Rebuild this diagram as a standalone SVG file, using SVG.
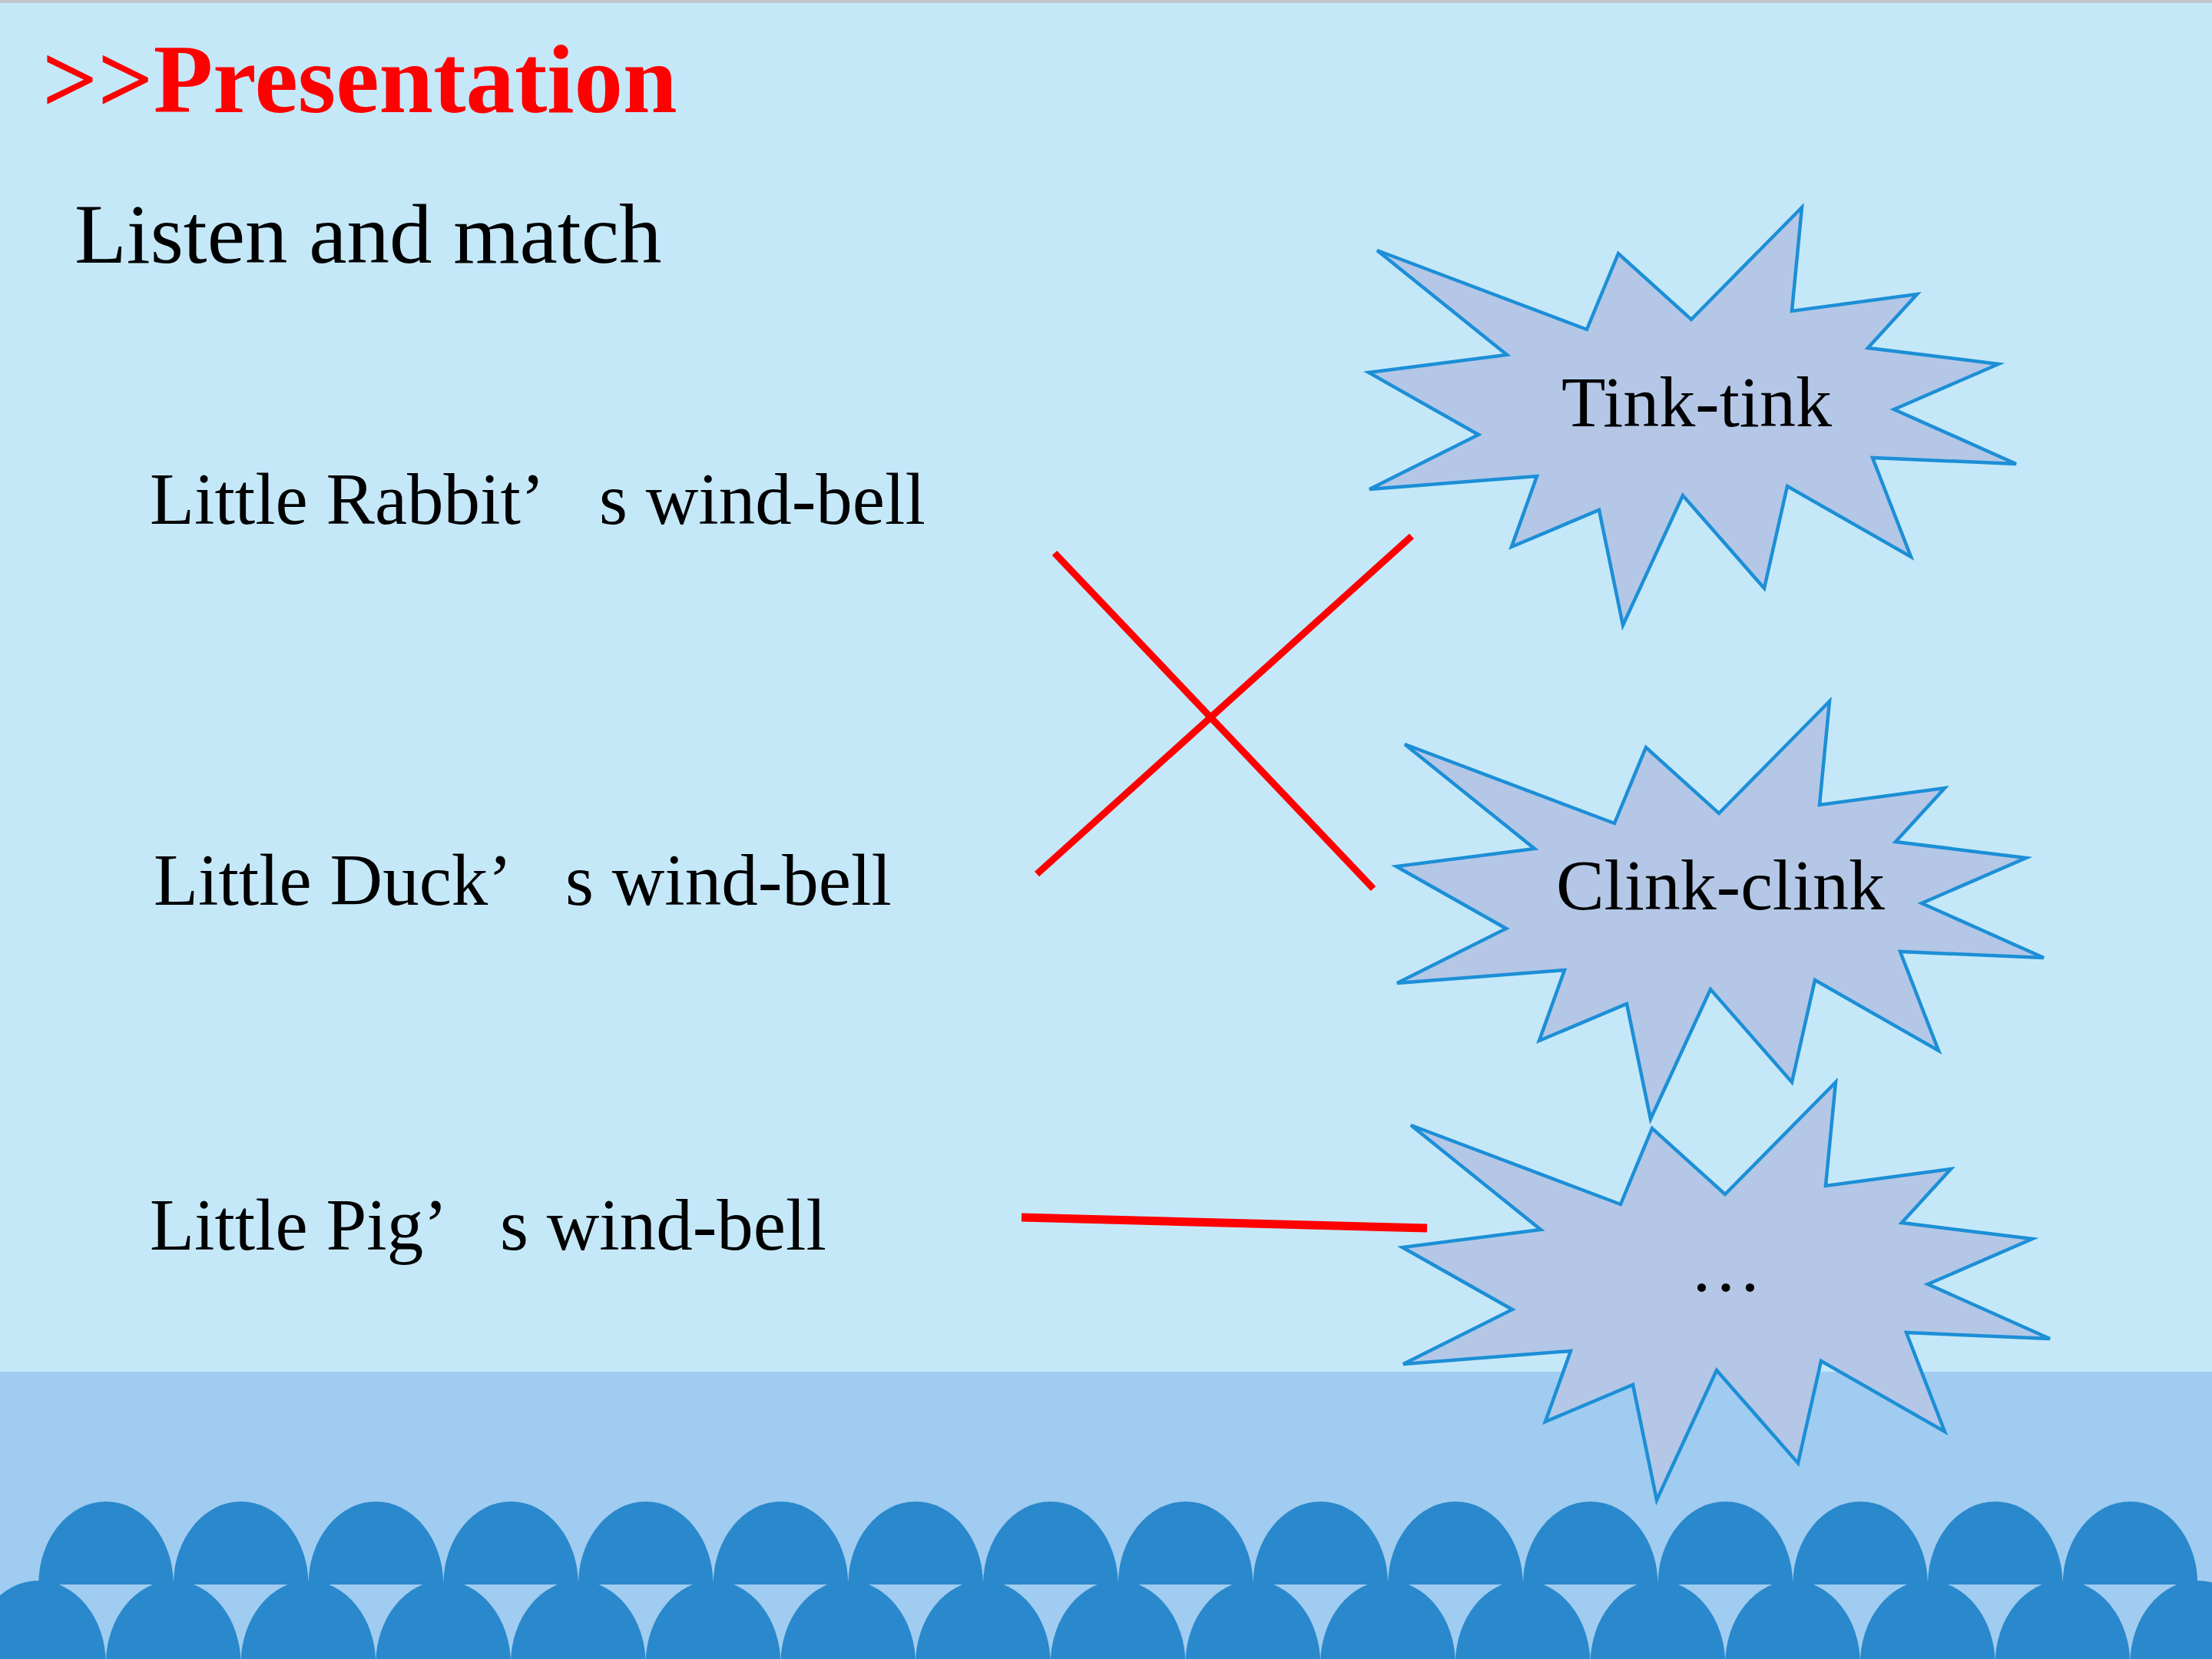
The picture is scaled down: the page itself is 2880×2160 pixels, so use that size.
<svg xmlns="http://www.w3.org/2000/svg" xmlns:xlink="http://www.w3.org/1999/xlink" width="2880" height="2160" viewBox="0 0 2880 2160">
<style>
.serif{font-family:"Liberation Serif","Times New Roman",serif;}
.title{font-size:127px;font-weight:bold;fill:#FF0000;}
.sub{font-size:111px;fill:#000;}
.lbl{font-size:95px;fill:#000;}
.burst{fill:#B4C7E7;stroke:#1C8FD6;stroke-width:4.5;stroke-linejoin:miter;}
.btxt{font-size:94px;fill:#000;text-anchor:middle;}
.conn{stroke:#FF0000;stroke-linecap:butt;fill:none;}
.arch{fill:#2A88CC;}
</style>
<defs>
<polygon id="burstShape" points="1793,326 2066,429 2107,330 2202,416 2346,270 2333,405 2496,383 2432,453 2602,474 2466,533 2625,604 2438,596 2488,725 2327,633 2297,766 2191,645 2113,814 2082,664 1968,712 2001,620 1783,637 1925,566 1782,485 1962,462"/>
<path id="arch" d="M-87.8,0 A87.8,108 0 0 1 87.8,0 Z"/>
</defs>
<g id="background">
<rect x="0" y="0" width="2880" height="2160" fill="#C5E8F9"/>
<rect x="0" y="0" width="2880" height="4" fill="#C2C6CA"/>
<rect x="0" y="1786" width="2880" height="374" fill="#9FCCF0"/>
<g class="arch">
<use xlink:href="#arch" x="138" y="2063"/>
<use xlink:href="#arch" x="313.7" y="2063"/>
<use xlink:href="#arch" x="489.4" y="2063"/>
<use xlink:href="#arch" x="665.1" y="2063"/>
<use xlink:href="#arch" x="840.8" y="2063"/>
<use xlink:href="#arch" x="1016.5" y="2063"/>
<use xlink:href="#arch" x="1192.2" y="2063"/>
<use xlink:href="#arch" x="1367.9" y="2063"/>
<use xlink:href="#arch" x="1543.6" y="2063"/>
<use xlink:href="#arch" x="1719.3" y="2063"/>
<use xlink:href="#arch" x="1895" y="2063"/>
<use xlink:href="#arch" x="2070.7" y="2063"/>
<use xlink:href="#arch" x="2246.4" y="2063"/>
<use xlink:href="#arch" x="2422.1" y="2063"/>
<use xlink:href="#arch" x="2597.8" y="2063"/>
<use xlink:href="#arch" x="2773.5" y="2063"/>
<use xlink:href="#arch" x="50" y="2166"/>
<use xlink:href="#arch" x="225.7" y="2166"/>
<use xlink:href="#arch" x="401.4" y="2166"/>
<use xlink:href="#arch" x="577.1" y="2166"/>
<use xlink:href="#arch" x="752.8" y="2166"/>
<use xlink:href="#arch" x="928.5" y="2166"/>
<use xlink:href="#arch" x="1104.2" y="2166"/>
<use xlink:href="#arch" x="1279.9" y="2166"/>
<use xlink:href="#arch" x="1455.6" y="2166"/>
<use xlink:href="#arch" x="1631.3" y="2166"/>
<use xlink:href="#arch" x="1807" y="2166"/>
<use xlink:href="#arch" x="1982.7" y="2166"/>
<use xlink:href="#arch" x="2158.4" y="2166"/>
<use xlink:href="#arch" x="2334.1" y="2166"/>
<use xlink:href="#arch" x="2509.8" y="2166"/>
<use xlink:href="#arch" x="2685.5" y="2166"/>
<use xlink:href="#arch" x="2861.2" y="2166"/>
</g>
</g>
<g id="title">
<text class="serif title" x="55" y="146">&gt;&gt;Presentation</text>
</g>
<g id="instruction">
<text class="serif sub" x="97" y="342">Listen and match</text>
</g>
<g id="label-rabbit">
<text class="serif lbl" x="195" y="682">Little Rabbit’<tspan x="780">s wind-bell</tspan></text>
</g>
<g id="label-duck">
<text class="serif lbl" x="200" y="1178">Little Duck’<tspan x="736">s wind-bell</tspan></text>
</g>
<g id="label-pig">
<text class="serif lbl" x="195" y="1627">Little Pig’<tspan x="651">s wind-bell</tspan></text>
</g>
<g id="sound-tink">
<use xlink:href="#burstShape" class="burst"/>
<text class="serif btxt" x="2209" y="555">Tink-tink</text>
</g>
<g id="sound-clink">
<use xlink:href="#burstShape" class="burst" transform="translate(36,643)"/>
<text class="serif btxt" x="2240" y="1184">Clink-clink</text>
</g>
<g id="sound-more">
<use xlink:href="#burstShape" class="burst" transform="translate(44,1139)"/>
<text class="serif btxt" x="2247" y="1681">…</text>
</g>
<g id="connectors">
<line class="conn" stroke-width="9" x1="1373" y1="720" x2="1788" y2="1157"/>
<line class="conn" stroke-width="9" x1="1350" y1="1138" x2="1838" y2="698"/>
<line class="conn" stroke-width="11" x1="1330" y1="1585" x2="1858" y2="1599"/>
</g>
</svg>
